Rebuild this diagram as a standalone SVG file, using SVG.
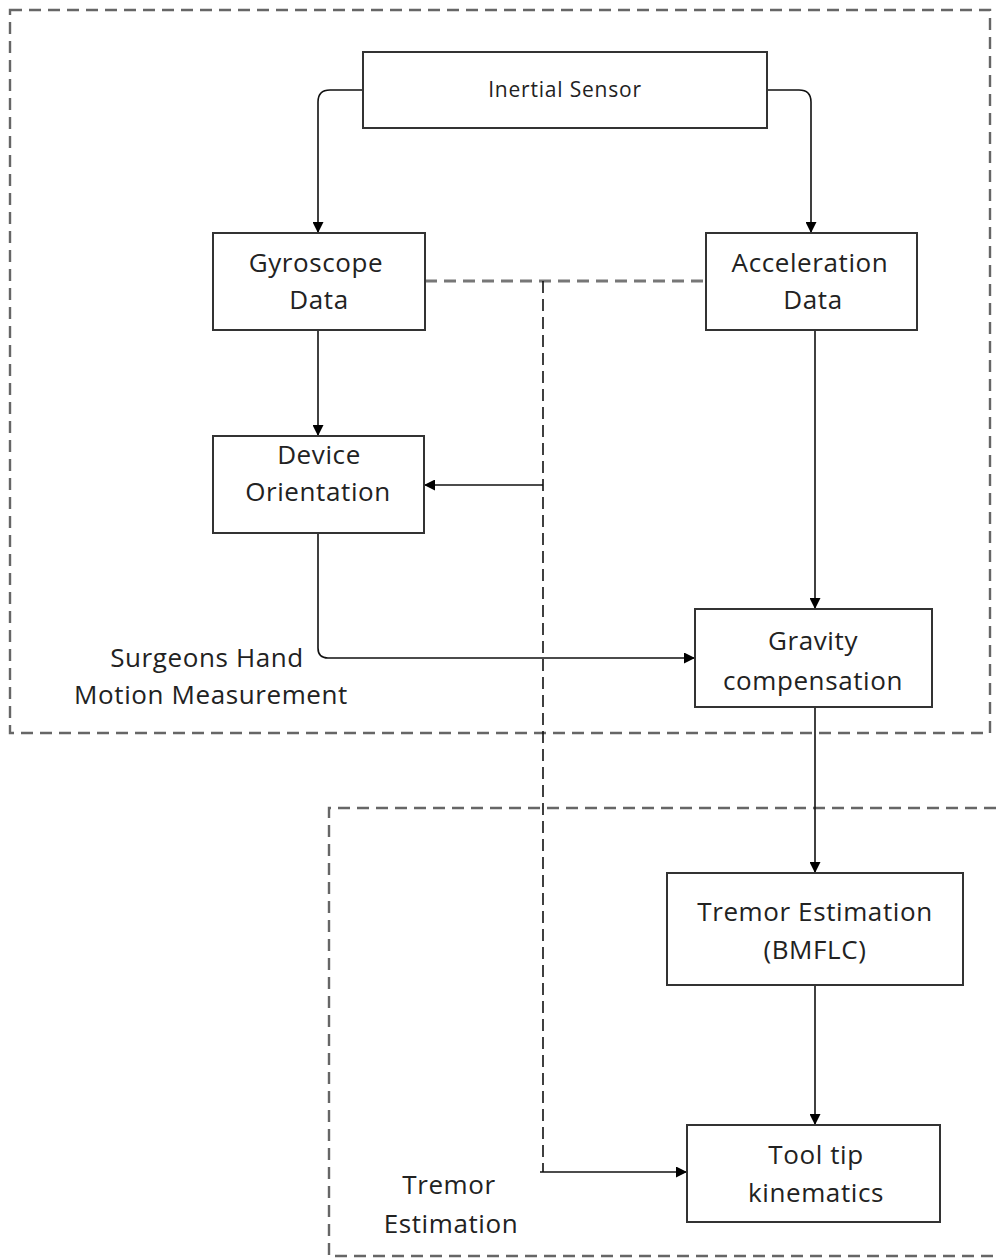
<svg xmlns="http://www.w3.org/2000/svg" width="996" height="1260" viewBox="0 0 996 1260">
<defs>
<marker id="ah" viewBox="0 0 10 10" refX="10" refY="5" markerWidth="11" markerHeight="11" markerUnits="userSpaceOnUse" orient="auto">
<path d="M0,0 L10,5 L0,10 z" fill="#000"/>
</marker>
<style>
.box{fill:#fff;stroke:#333;stroke-width:2}
.t{font-family:"Open Sans","Noto Sans",sans-serif;font-size:26px;letter-spacing:0.6px;fill:#222;text-anchor:middle}
.ts{font-family:"Open Sans","Noto Sans",sans-serif;font-size:21px;letter-spacing:0.8px;fill:#222;text-anchor:middle}
.c{fill:none;stroke:#111;stroke-width:1.6}
.cd{fill:none;stroke:#111;stroke-width:1.6;stroke-dasharray:12,6}
.g{fill:none;stroke:#666;stroke-width:2.4;stroke-dasharray:12,7}
.gd{fill:none;stroke:#777;stroke-width:3;stroke-dasharray:12,7}
</style>
</defs>
<g id="groups">
<rect class="g" x="10" y="10" width="980" height="723"/>
<path class="g" d="M996,808 H329 V1256 H996"/>
<text class="t" x="207" y="667">Surgeons Hand</text>
<text class="t" x="211" y="704">Motion Measurement</text>
<text class="t" x="449" y="1194">Tremor</text>
<text class="t" x="451" y="1233">Estimation</text>
</g>
<g id="connectors">
<path class="c" d="M363,90 H330 Q318,90 318,102 V233" marker-end="url(#ah)"/>
<path class="c" d="M767,90 H799 Q811,90 811,102 V233" marker-end="url(#ah)"/>
<path class="c" d="M318,330 V436" marker-end="url(#ah)"/>
<path class="c" d="M815,330 V609" marker-end="url(#ah)"/>
<path class="c" d="M318,533 V648 Q318,658 328,658 H695" marker-end="url(#ah)"/>
<path class="c" d="M815,707 V873" marker-end="url(#ah)"/>
<path class="c" d="M815,985 V1125" marker-end="url(#ah)"/>
<path class="gd" d="M425,281 H706"/>
<path class="cd" d="M543,281 V1172"/>
<path class="c" d="M543,485 H424" marker-end="url(#ah)"/>
<path class="c" d="M540,1172 H687" marker-end="url(#ah)"/>
</g>
<g id="inertial">
<rect class="box" x="363" y="52" width="404" height="76"/>
<text class="ts" x="565" y="97">Inertial Sensor</text>
</g>
<g id="gyro">
<rect class="box" x="213" y="233" width="212" height="97"/>
<text class="t" x="316" y="272">Gyroscope</text>
<text class="t" x="319" y="309">Data</text>
</g>
<g id="accel">
<rect class="box" x="706" y="233" width="211" height="97"/>
<text class="t" x="810" y="272">Acceleration</text>
<text class="t" x="813" y="309">Data</text>
</g>
<g id="orient">
<rect class="box" x="213" y="436" width="211" height="97"/>
<text class="t" x="319" y="464">Device</text>
<text class="t" x="318" y="501">Orientation</text>
</g>
<g id="gravity">
<rect class="box" x="695" y="609" width="237" height="98"/>
<text class="t" x="813" y="650">Gravity</text>
<text class="t" x="813" y="690">compensation</text>
</g>
<g id="tremor">
<rect class="box" x="667" y="873" width="296" height="112"/>
<text class="t" x="815" y="921">Tremor Estimation</text>
<text class="t" x="815" y="959">(BMFLC)</text>
</g>
<g id="tooltip">
<rect class="box" x="687" y="1125" width="253" height="97"/>
<text class="t" x="816" y="1164">Tool tip</text>
<text class="t" x="816" y="1202">kinematics</text>
</g>
</svg>
